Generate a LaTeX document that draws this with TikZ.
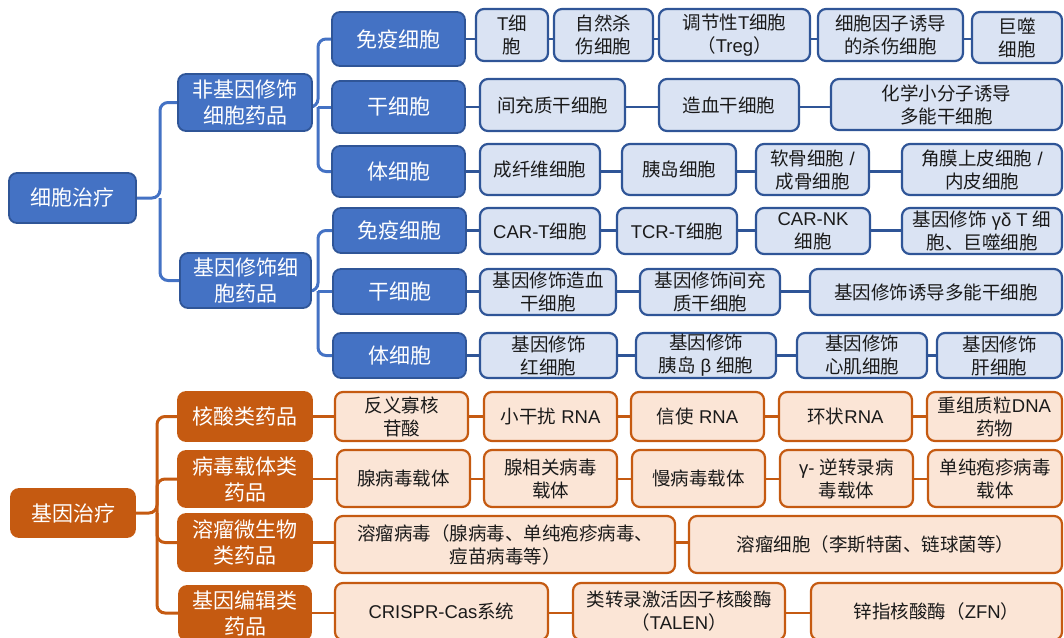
\documentclass[tikz,border=0pt]{standalone}
\usepackage{fontspec}
\setmainfont{Noto Sans CJK SC}
\newfontfamily\lat{Liberation Sans}
\usetikzlibrary{backgrounds}
\definecolor{bdark}{HTML}{4472C4}
\definecolor{bedge}{HTML}{2F5597}
\definecolor{blight}{HTML}{DAE3F3}
\definecolor{odark}{HTML}{C55A11}
\definecolor{olight}{HTML}{FBE5D6}
\definecolor{ltext}{HTML}{1A1A1A}
\tikzset{
  box/.style={rounded corners=8pt, inner sep=0pt, outer sep=0pt, align=center},
  bhdr/.style={box, fill=bdark, draw=bedge, line width=1.8pt, text=white, font=\fontsize{21}{26}\selectfont},
  bleaf/.style={box, fill=blight, draw=bedge, line width=2.2pt, text=ltext, font=\fontsize{18.5}{23}\selectfont},
  ohdr/.style={box, fill=odark, draw=odark, line width=1.8pt, text=white, font=\fontsize{21}{26}\selectfont},
  oleaf/.style={box, fill=olight, draw=odark, line width=2.2pt, text=ltext, font=\fontsize{18.5}{23}\selectfont},
  bbr/.style={draw=bdark, line width=3pt, rounded corners=8pt},
  blink/.style={draw=bedge, line width=2.5pt},
  obr/.style={draw=odark, line width=3pt, rounded corners=8pt},
  olink/.style={draw=odark, line width=2.5pt},
}
\newcommand\bx[7]{\node[#1, minimum width={(#5)-(#3)}, minimum height={(#6)-(#4)}] (#2) at ({((#3)+(#5))/2},{((#4)+(#6))/2}) {#7};}
\newcommand\rowlink[3]{%
  \xdef\prevnode{#2}%
  \foreach \n in {#3} {\draw[#1] (\prevnode.east |- #2) -- (\n.west |- #2); \xdef\prevnode{\n}}%
}
\newcommand\lt[1]{{\lat #1}}
\begin{document}
\begin{tikzpicture}[x=1pt, y=-1pt]
\useasboundingbox (0,0) rectangle (1064,637);
% ---------- cell therapy (blue) ----------
\bx{bhdr}{A}{9}{173}{136}{223}{细胞治疗}
\bx{bhdr}{B1}{178}{74}{312}{131}{非基因修饰\\细胞药品}
\bx{bhdr}{B2}{180}{253}{311}{308}{基因修饰细\\胞药品}
\bx{bhdr}{C1}{332}{12}{465}{66}{免疫细胞}
\bx{bhdr}{C2}{332}{81}{465}{133}{干细胞}
\bx{bhdr}{C3}{332}{146}{465}{197}{体细胞}
\bx{bhdr}{C4}{333}{208}{466}{253}{免疫细胞}
\bx{bhdr}{C5}{333}{269}{466}{314}{干细胞}
\bx{bhdr}{C6}{333}{333}{466}{378}{体细胞}
% row 1
\bx{bleaf}{r1a}{476}{9}{548}{61}{\lt{T}细\\胞}
\bx{bleaf}{r1b}{554}{9}{653}{61}{自然杀\\伤细胞}
\bx{bleaf}{r1c}{659}{9}{810}{61}{调节性\lt{T}细胞\\（\lt{Treg}）}
\bx{bleaf}{r1d}{818}{9}{963}{61}{细胞因子诱导\\的杀伤细胞}
\bx{bleaf}{r1e}{972}{12}{1062}{63}{巨噬\\细胞}
% row 2
\bx{bleaf}{r2a}{480}{79}{625}{131}{间充质干细胞}
\bx{bleaf}{r2b}{659}{79}{799}{131}{造血干细胞}
\bx{bleaf}{r2c}{831}{79}{1062}{130}{化学小分子诱导\\多能干细胞}
% row 3
\bx{bleaf}{r3a}{480}{144}{600}{195}{成纤维细胞}
\bx{bleaf}{r3b}{622}{144}{736}{195}{胰岛细胞}
\bx{bleaf}{r3c}{756}{144}{869}{195}{软骨细胞\lt{ /}\\成骨细胞}
\bx{bleaf}{r3d}{902}{144}{1062}{195}{角膜上皮细胞\lt{ /}\\内皮细胞}
% row 4
\bx{bleaf}{r4a}{480}{208}{600}{254}{\lt{CAR-T}细胞}
\bx{bleaf}{r4b}{617}{208}{737}{254}{\lt{TCR-T}细胞}
\bx{bleaf}{r4c}{756}{208}{870}{254}{\lt{CAR-NK}\\细胞}
\bx{bleaf}{r4d}{902}{208}{1062}{254}{基因修饰\lt{ γδ T }细\\胞、巨噬细胞}
% row 5
\bx{bleaf}{r5a}{480}{269}{616}{315}{基因修饰造血\\干细胞}
\bx{bleaf}{r5b}{640}{269}{780}{315}{基因修饰间充\\质干细胞}
\bx{bleaf}{r5c}{810}{269}{1062}{315}{基因修饰诱导多能干细胞}
% row 6
\bx{bleaf}{r6a}{480}{333}{617}{378}{基因修饰\\红细胞}
\bx{bleaf}{r6b}{636}{333}{776}{378}{基因修饰\\胰岛\lt{ β }细胞}
\bx{bleaf}{r6c}{797}{333}{927}{378}{基因修饰\\心肌细胞}
\bx{bleaf}{r6d}{937}{333}{1062}{378}{基因修饰\\肝细胞}
% ---------- gene therapy (orange) ----------
\bx{ohdr}{G}{11}{489}{135}{537}{基因治疗}
\bx{ohdr}{H1}{178}{392}{312}{441}{核酸类药品}
\bx{ohdr}{H2}{178}{451}{312}{507}{病毒载体类\\药品}
\bx{ohdr}{H3}{178}{514}{312}{571}{溶瘤微生物\\类药品}
\bx{ohdr}{H4}{179}{586}{311}{640}{基因编辑类\\药品}
% row 7
\bx{oleaf}{r7a}{335}{392}{468}{441}{反义寡核\\苷酸}
\bx{oleaf}{r7b}{484}{392}{617}{441}{小干扰\lt{ RNA}}
\bx{oleaf}{r7c}{631}{392}{764}{441}{信使\lt{ RNA}}
\bx{oleaf}{r7d}{779}{392}{912}{441}{环状\lt{RNA}}
\bx{oleaf}{r7e}{927}{392}{1062}{441}{重组质粒\lt{DNA}\\药物}
% row 8
\bx{oleaf}{r8a}{337}{450}{470}{507}{腺病毒载体}
\bx{oleaf}{r8b}{484}{450}{617}{507}{腺相关病毒\\载体}
\bx{oleaf}{r8c}{632}{450}{765}{507}{慢病毒载体}
\bx{oleaf}{r8d}{780}{450}{913}{507}{\lt{γ- }逆转录病\\毒载体}
\bx{oleaf}{r8e}{928}{450}{1062}{507}{单纯疱疹病毒\\载体}
% row 9
\bx{oleaf}{r9a}{335}{516}{675}{573}{溶瘤病毒（腺病毒、单纯疱疹病毒、\\痘苗病毒等）}
\bx{oleaf}{r9b}{689}{516}{1062}{573}{溶瘤细胞（李斯特菌、链球菌等）}
% row 10
\bx{oleaf}{r10a}{335}{583}{548}{640}{\lt{CRISPR-Cas}系统}
\bx{oleaf}{r10b}{573}{583}{785}{640}{类转录激活因子核酸酶\\（\lt{TALEN}）}
\bx{oleaf}{r10c}{811}{583}{1062}{640}{锌指核酸酶（\lt{ZFN}）}
% ---------- connectors ----------
\begin{pgfonlayer}{background}
  % top level blue bracket
  \coordinate (Abr) at (160,198);
  \draw[bbr] (A.east) -- (Abr) |- (B1.west);
  \draw[bbr] (Abr) |- (B2.west);
  % non-gene-modified bracket
  \coordinate (B1br) at (318,107);
  \draw[bbr] (B1.east |- B1br) -- (B1br) |- (C1.west);
  \draw[bbr] (B1br) -- (C2.west |- B1br);
  \draw[bbr] (B1br) |- (C3.west);
  % gene-modified bracket
  \coordinate (B2br) at (318,291);
  \draw[bbr] (B2.east |- B2br) -- (B2br) |- (C4.west);
  \draw[bbr] (B2br) -- (C5.west |- B2br);
  \draw[bbr] (B2br) |- (C6.west);
  % rows
  \rowlink{blink}{C1}{r1a,r1b,r1c,r1d,r1e}
  \rowlink{blink}{C2}{r2a,r2b,r2c}
  \rowlink{blink}{C3}{r3a,r3b,r3c,r3d}
  \rowlink{blink}{C4}{r4a,r4b,r4c,r4d}
  \rowlink{blink}{C5}{r5a,r5b,r5c}
  \rowlink{blink}{C6}{r6a,r6b,r6c,r6d}
  % orange bracket
  \coordinate (Gbr) at (157,513);
  \draw[obr] (G.east) -- (Gbr) |- (H1.west);
  \draw[obr] (Gbr) |- (H2.west);
  \draw[obr] (Gbr) |- (H3.west);
  \draw[obr] (Gbr) |- (H4.west);
  \rowlink{olink}{H1}{r7a,r7b,r7c,r7d,r7e}
  \rowlink{olink}{H2}{r8a,r8b,r8c,r8d,r8e}
  \rowlink{olink}{H3}{r9a,r9b}
  \rowlink{olink}{H4}{r10a,r10b,r10c}
\end{pgfonlayer}
\end{tikzpicture}
\end{document}
